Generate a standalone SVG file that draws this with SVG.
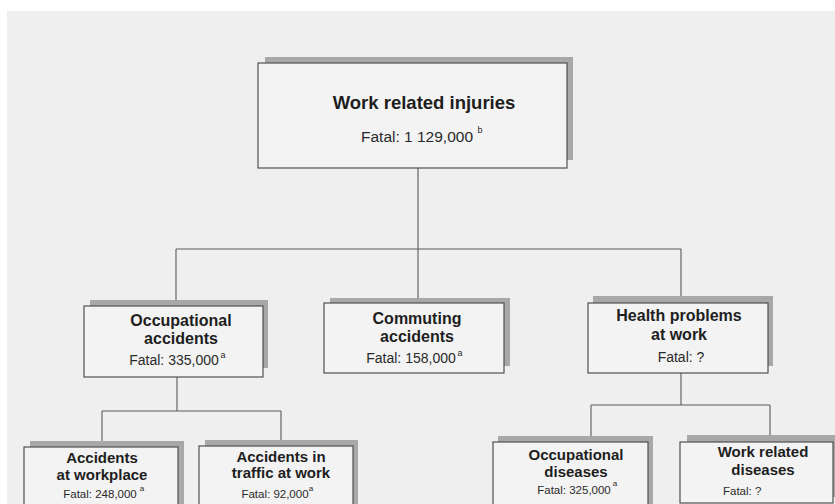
<svg xmlns="http://www.w3.org/2000/svg" width="835" height="504" viewBox="0 0 835 504">
<defs>
<style>
.bg{fill:#efefef}
.sh{fill:#a8a8a8}
.bx{fill:#f3f3f3;stroke:#505050;stroke-width:1.2}
.ln{fill:none;stroke:#5a5a5a;stroke-width:1.1}
text{font-family:"Liberation Sans",Arial,sans-serif;fill:#1e1e1e;text-anchor:middle}
.t1{font-size:18.5px;font-weight:bold}
.t2{font-size:16px;font-weight:bold}
.t3{font-size:15px;font-weight:bold}
.f1{font-size:15.5px;fill:#2a2a2a}
.f2{font-size:14px;fill:#2a2a2a}
.f3{font-size:11.5px;fill:#2a2a2a}
.sup{font-size:9px;fill:#2a2a2a}
.sup3{font-size:8px;fill:#2a2a2a}
</style>
</defs>
<rect x="0" y="0" width="835" height="504" fill="#ffffff"/>
<rect class="bg" x="7" y="11" width="828" height="493"/>

<g id="connectors">
<path class="ln" d="M418 168 V249 M176 249 H681 M176 249 V306 M418 249 V303 M681 249 V303"/>
<path class="ln" d="M177 377 V411 M102 411 H281 M102 411 V447 M281 411 V446"/>
<path class="ln" d="M681 373 V405 M591 405 H770 M591 405 V442 M770 405 V442"/>
</g>

<g id="work-related-injuries">
<rect class="sh" x="265" y="57" width="308" height="103"/>
<rect class="bx" x="258" y="63" width="309" height="105"/>
<text class="t1" x="424" y="109">Work related injuries</text>
<text class="f1" x="417" y="142">Fatal: 1 129,000</text>
<text class="sup" x="480" y="133">b</text>
</g>

<g id="occupational-accidents">
<rect class="sh" x="90" y="300" width="178" height="68"/>
<rect class="bx" x="84" y="306" width="179" height="71"/>
<text class="t2" x="181" y="326">Occupational</text>
<text class="t2" x="181" y="344">accidents</text>
<text class="f2" x="174" y="365">Fatal: 335,000</text>
<text class="sup" x="223" y="358">a</text>
</g>

<g id="commuting-accidents">
<rect class="sh" x="330" y="298" width="180" height="68"/>
<rect class="bx" x="324" y="303" width="180" height="70"/>
<text class="t2" x="417" y="324">Commuting</text>
<text class="t2" x="417" y="342">accidents</text>
<text class="f2" x="411" y="363">Fatal: 158,000</text>
<text class="sup" x="460" y="356">a</text>
</g>

<g id="health-problems">
<rect class="sh" x="593" y="296" width="180" height="70"/>
<rect class="bx" x="588" y="303" width="180" height="70"/>
<text class="t2" x="679" y="321">Health problems</text>
<text class="t2" x="679" y="340">at work</text>
<text class="f2" x="681" y="362">Fatal: ?</text>
</g>

<g id="accidents-at-workplace">
<rect class="sh" x="30" y="441" width="154" height="70"/>
<rect class="bx" x="24" y="447" width="154" height="64"/>
<text class="t3" x="102" y="463">Accidents</text>
<text class="t3" x="102" y="480">at workplace</text>
<text class="f3" x="100" y="498">Fatal: 248,000</text>
<text class="sup3" x="142" y="491">a</text>
</g>

<g id="accidents-in-traffic">
<rect class="sh" x="205" y="440" width="153" height="70"/>
<rect class="bx" x="199" y="446" width="154" height="64"/>
<text class="t3" x="281" y="462">Accidents in</text>
<text class="t3" x="281" y="478">traffic at work</text>
<text class="f3" x="275" y="498">Fatal: 92,000</text>
<text class="sup3" x="311" y="491">a</text>
</g>

<g id="occupational-diseases">
<rect class="sh" x="498" y="436" width="155" height="70"/>
<rect class="bx" x="493" y="442" width="155" height="64"/>
<text class="t3" x="576" y="460">Occupational</text>
<text class="t3" x="576" y="477">diseases</text>
<text class="f3" x="574" y="494">Fatal: 325,000</text>
<text class="sup3" x="615" y="486">a</text>
</g>

<g id="work-related-diseases">
<rect class="sh" x="687" y="435" width="155" height="62"/>
<rect class="bx" x="680" y="442" width="153" height="61"/>
<text class="t3" x="763" y="457">Work related</text>
<text class="t3" x="763" y="475">diseases</text>
<text class="f3" x="723" y="495" style="text-anchor:start">Fatal: ?</text>
</g>
</svg>
